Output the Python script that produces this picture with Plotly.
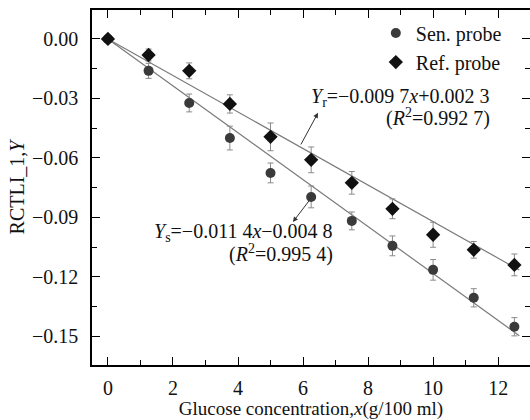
import plotly.graph_objects as go

x_vals = [0, 1.25, 2.5, 3.75, 5, 6.25, 7.5, 8.75, 10, 11.25, 12.5]
sen_y = [0.0, -0.0161, -0.0323, -0.0500, -0.0676, -0.0797, -0.0918, -0.1044, -0.1165, -0.1306, -0.1452]
sen_err = [0.0, 0.0038, 0.0045, 0.0060, 0.0050, 0.0055, 0.0045, 0.0050, 0.0052, 0.0046, 0.0046]
ref_y = [0.0, -0.0081, -0.0161, -0.0328, -0.0494, -0.0610, -0.0726, -0.0857, -0.0988, -0.1064, -0.1140]
ref_err = [0.0, 0.0030, 0.0040, 0.0046, 0.0070, 0.0065, 0.0057, 0.0050, 0.0063, 0.0042, 0.0055]

fit_x = [0, 12.65]
sen_fit_y = [0.0, -0.1497]
ref_fit_y = [0.0, -0.1166]

x_ticks = [0, 2, 4, 6, 8, 10, 12]
y_ticks = [0.0, -0.03, -0.06, -0.09, -0.12, -0.15]
y_ticktext = ["0.00", "−0.03", "−0.06", "−0.09", "−0.12", "−0.15"]

FONT = "Liberation Serif, Times New Roman, serif"
FS = 20

fig = go.Figure()
fig.add_trace(go.Scatter(x=fit_x, y=sen_fit_y, mode="lines",
                         line=dict(color="#7a7a7a", width=1.2), showlegend=False, hoverinfo="skip"))
fig.add_trace(go.Scatter(x=fit_x, y=ref_fit_y, mode="lines",
                         line=dict(color="#7a7a7a", width=1.2), showlegend=False, hoverinfo="skip"))
fig.add_trace(go.Scatter(x=x_vals, y=sen_y, mode="markers", name="Sen. probe",
                         marker=dict(symbol="circle", size=10, color="#3a3a3a"),
                         error_y=dict(type="data", array=sen_err, color="#8a8a8a", thickness=1, width=3)))
fig.add_trace(go.Scatter(x=x_vals, y=ref_y, mode="markers", name="Ref. probe",
                         marker=dict(symbol="diamond", size=11, color="#111111"),
                         error_y=dict(type="data", array=ref_err, color="#8a8a8a", thickness=1, width=3)))

axis_common = dict(showline=True, linecolor="black", linewidth=1.5, mirror="ticks",
                   ticks="inside", ticklen=8, tickwidth=1.2, tickcolor="black",
                   showgrid=False, zeroline=False, automargin=False,
                   tickfont=dict(family=FONT, size=FS, color="#111"))

fig.update_xaxes(range=[-0.49, 12.98], tickvals=x_ticks, ticklabelstandoff=4,
                 minor=dict(dtick=1, ticks="inside", ticklen=5, tickcolor="black", tickwidth=1),
                 title=dict(text="Glucose concentration,<i>x</i>(g/100 ml)",
                            font=dict(family=FONT, size=19, color="#111"), standoff=3),
                 **axis_common)
fig.update_yaxes(range=[-0.1645, 0.0146], tickvals=y_ticks, ticktext=y_ticktext, ticklabelstandoff=8,
                 minor=dict(tickvals=[-0.015, -0.045, -0.075, -0.105, -0.135], ticks="inside",
                            ticklen=5, tickcolor="black", tickwidth=1),
                 title=dict(text="RCTLI_1,<i>Y</i>", font=dict(family=FONT, size=FS, color="#111"), standoff=2),
                 **axis_common)

ann_font = dict(family=FONT, size=FS, color="#111")
fig.add_annotation(x=11.82, y=-0.0293, xref="x", yref="y", xanchor="right", yanchor="middle",
                   text="<i>Y</i><sub>r</sub>=−0.009 7<i>x</i>+0.002 3", showarrow=False, font=ann_font)
fig.add_annotation(x=11.82, y=-0.0398, xref="x", yref="y", xanchor="right", yanchor="middle",
                   text="(<i>R</i><sup>2</sup>=0.992 7)", showarrow=False, font=ann_font)
fig.add_annotation(x=6.98, y=-0.0978, xref="x", yref="y", xanchor="right", yanchor="middle",
                   text="<i>Y</i><sub>s</sub>=−0.011 4<i>x</i>−0.004 8", showarrow=False, font=ann_font)
fig.add_annotation(x=6.98, y=-0.108, xref="x", yref="y", xanchor="right", yanchor="middle",
                   text="(<i>R</i><sup>2</sup>=0.995 4)", showarrow=False, font=ann_font)

fig.add_annotation(x=6.46, y=-0.0373, ax=5.91, ay=-0.054, xref="x", yref="y", axref="x", ayref="y",
                   text="", showarrow=True, arrowhead=2, arrowsize=1, arrowwidth=1, arrowcolor="#333")
fig.add_annotation(x=5.69, y=-0.0923, ax=6.37, ay=-0.0777, xref="x", yref="y", axref="x", ayref="y",
                   text="", showarrow=True, arrowhead=2, arrowsize=1, arrowwidth=1, arrowcolor="#333")

fig.update_layout(width=530, height=420, margin=dict(l=92, r=0, t=10, b=55, autoexpand=False),
                  plot_bgcolor="white", paper_bgcolor="white",
                  font=dict(family=FONT, size=FS, color="#111"),
                  legend=dict(x=0.648, y=0.99, xanchor="left", yanchor="top", bgcolor="rgba(0,0,0,0)",
                              font=dict(family=FONT, size=FS), itemwidth=30, tracegroupgap=0))

fig.write_html("out.html", config={"displayModeBar": False},
               post_script="document.body.style.margin='0';document.body.style.overflow='hidden';")
